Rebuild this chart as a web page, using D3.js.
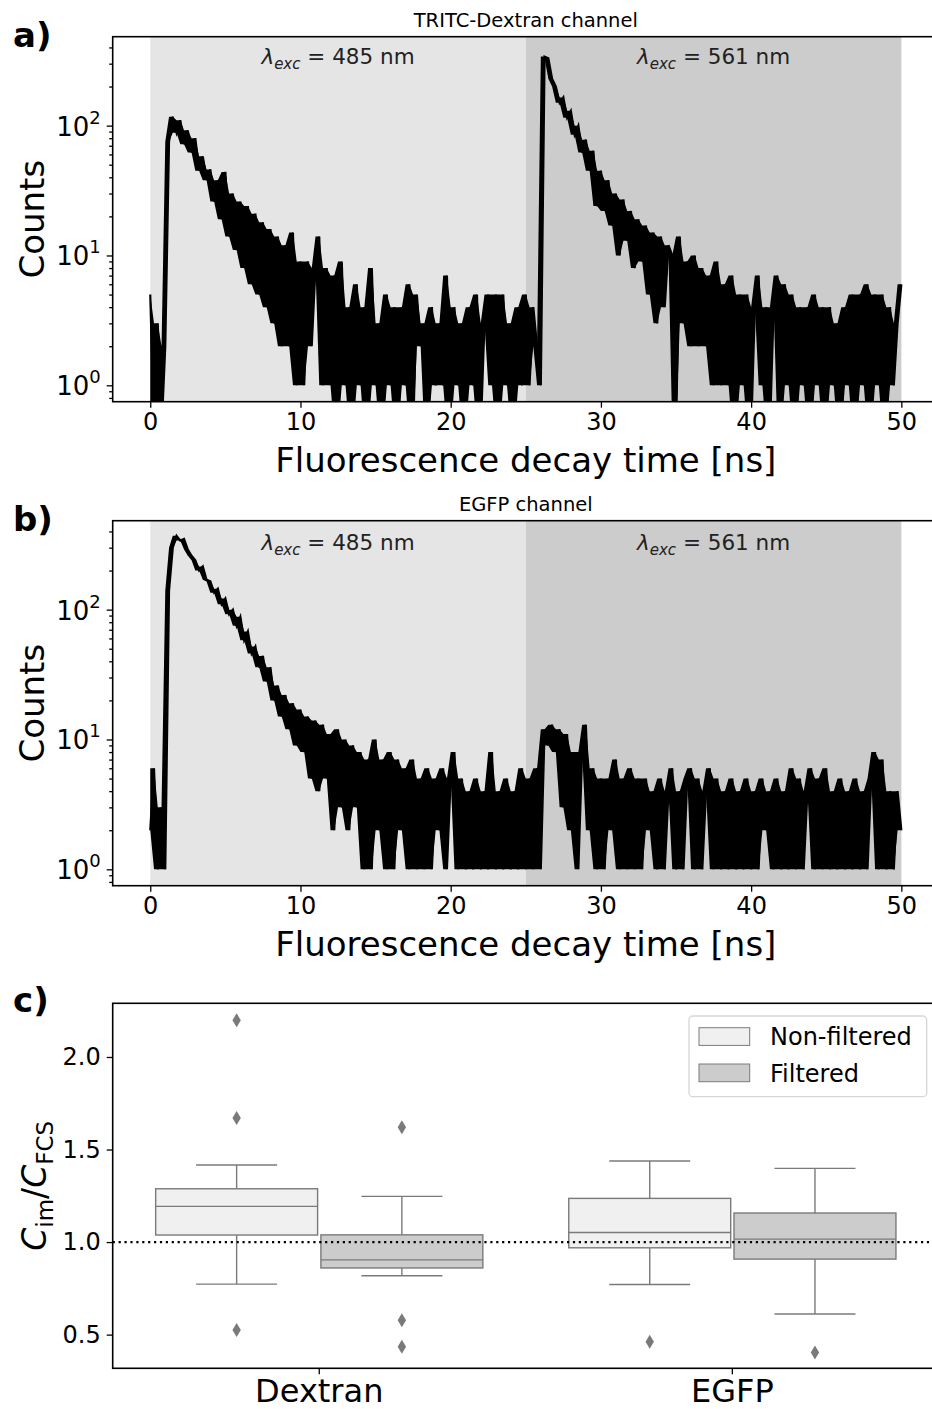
<!DOCTYPE html>
<html>
<head>
<meta charset="utf-8">
<script src="https://cdn.jsdelivr.net/npm/d3@7/dist/d3.min.js"></script>
<style>
  body { margin: 0; background: #fff; }
  svg { display: block; font-family: 'DejaVu Sans', sans-serif; }
</style>
</head>
<body>
<svg id="fig" width="932" height="1409"></svg>
<script>
// photon counts per 0.25 ns bin
var decay_bin_ns = 0.25;

var tritc_counts = [
  5, 0, 3, 0, 2, 75, 117, 88, 110, 72, 92, 62, 80, 45, 58, 38, 46, 26, 38, 19,
  44, 14, 30, 11, 26, 8, 24, 6, 21, 5, 18, 4, 16, 3, 14, 2, 12, 2, 15, 1,
  9, 1, 9, 2, 8, 14, 1, 8, 1, 7, 0, 9, 1, 4, 0, 6, 1, 4, 0, 8,
  1, 3, 0, 5, 1, 4, 0, 4, 1, 6, 0, 5, 2, 3, 0, 4, 1, 3, 1, 7,
  0, 4, 1, 3, 0, 4, 1, 5, 0, 3, 5, 1, 5, 0, 5, 1, 3, 0, 4, 1,
  5, 1, 4, 2, 1, 340, 330, 230, 200, 150, 165, 115, 130, 85, 100, 62, 78, 45, 64, 24,
  45, 22, 38, 17, 30, 10, 27, 13, 22, 8, 19, 9, 17, 5, 15, 3, 14, 4, 12, 10,
  0, 14, 3, 9, 2, 10, 2, 8, 2, 7, 1, 9, 1, 6, 1, 7, 0, 5, 1, 5,
  0, 4, 7, 1, 4, 0, 4, 7, 0, 6, 1, 5, 0, 4, 1, 4, 0, 5, 1, 4,
  0, 4, 1, 3, 0, 4, 1, 5, 0, 5, 1, 6, 0, 5, 1, 5, 0, 4, 1, 3, 6
];

var egfp_counts = [
  2, 6, 1, 3, 1, 140, 300, 370, 340, 350, 290, 260, 240, 200, 215, 170, 165, 135, 145, 110,
  122, 92, 100, 75, 88, 58, 68, 46, 52, 36, 44, 28, 36, 20, 26, 15, 22, 12, 19, 9,
  17, 8, 15, 5, 14, 4, 13, 5, 11, 2, 12, 3, 10, 2, 9, 3, 8, 1, 7, 1,
  10, 2, 7, 1, 8, 1, 7, 2, 6, 1, 7, 1, 5, 1, 6, 1, 5, 2, 6, 1,
  5, 8, 1, 5, 1, 4, 1, 5, 1, 4, 1, 8, 1, 4, 1, 5, 1, 4, 1, 6,
  1, 5, 1, 6, 1, 12, 9, 13, 8, 12, 3, 11, 2, 8, 1, 8, 13, 2, 6, 1,
  5, 1, 5, 2, 7, 1, 5, 1, 6, 1, 5, 1, 5, 2, 4, 1, 5, 1, 4, 6,
  1, 4, 1, 5, 6, 1, 5, 1, 4, 6, 1, 5, 1, 4, 1, 5, 1, 4, 1, 5,
  1, 4, 1, 5, 2, 4, 1, 5, 1, 4, 1, 6, 1, 5, 1, 4, 6, 1, 5, 1,
  6, 1, 4, 1, 5, 1, 4, 1, 5, 1, 4, 1, 5, 8, 1, 7, 1, 4, 1, 4, 2
];

var span_edges   = [0, 25, 50];
var laser_lines  = ['485', '561'];
var x_ticks      = [0, 10, 20, 30, 40, 50];
var log_ticks    = [1, 10, 100];
var log_exps     = ['0', '1', '2'];
var log_minor    = [0.8, 0.9, 2, 3, 4, 5, 6, 7, 8, 9, 20, 30, 40, 50, 60, 70, 80, 90, 200, 300, 400];

// box plot: [lower whisker, Q1, median, Q3, upper whisker]
var categories = ['Dextran', 'EGFP'];
var hues       = ['Non-filtered', 'Filtered'];
var dextran_nonfiltered        = [0.773, 1.038, 1.193, 1.288, 1.416];
var dextran_nonfiltered_fliers = [2.198, 1.670, 0.525];
var dextran_filtered           = [0.818, 0.860, 0.904, 1.039, 1.247];
var dextran_filtered_fliers    = [1.620, 0.577, 0.434];
var egfp_nonfiltered           = [0.771, 0.969, 1.052, 1.236, 1.438];
var egfp_nonfiltered_fliers    = [0.461];
var egfp_filtered              = [0.611, 0.908, 1.016, 1.157, 1.398];
var egfp_filtered_fliers       = [0.404];
var ratio_ticks = [0.5, 1.0, 1.5, 2.0];

var svg = d3.select('#fig');

var left   = 112.7;
var width  = 826.2;
var height = 365;
var span_fill = ['#e5e5e5', '#cccccc'];
var box_fill  = ['#f0f0f0', '#cccccc'];
var box_line  = '#7a7a7a';

var style_axis = (ax, fs) => {
  ax.select('.domain').remove();
  ax.selectAll('.tick line').attr('stroke', '#000').attr('stroke-width', 1.3);
  ax.selectAll('.tick text')
    .attr('fill', '#000')
    .attr('font-size', fs)
    .attr('font-family', 'DejaVu Sans');
};

var decay_draw = (o) => {
  var g = svg.append('g').attr('transform', `translate(${left},${o.top})`);

  var x = d3.scaleLinear().domain([-2.5, 52.5]).range([0, width]);
  var y = d3.scaleLog().domain([0.748, 484]).range([height, 0]);
  var y_pos = (v) => v > 0 ? y(v) : height + 30;

  g.selectAll('rect.span')
    .data(laser_lines)
    .enter()
    .append('rect')
    .attr('class', 'span')
    .attr('x', (d,i) => x(span_edges[i]))
    .attr('width', (d,i) => x(span_edges[i+1]) - x(span_edges[i]))
    .attr('y', 0)
    .attr('height', height)
    .attr('fill', (d,i) => span_fill[i]);

  var lbl = g.selectAll('text.laser')
    .data(laser_lines)
    .enter()
    .append('text')
    .attr('class', 'laser')
    .attr('x', (d,i) => x((span_edges[i] + span_edges[i+1]) / 2))
    .attr('y', o.label_dy)
    .attr('text-anchor', 'middle')
    .attr('font-size', '21.5px')
    .attr('fill', '#222');
  lbl.append('tspan').attr('font-style', 'italic').text('λ');
  lbl.append('tspan').attr('font-style', 'italic').attr('font-size', '15px').attr('dy', 5).text('exc');
  lbl.append('tspan').attr('dy', -5).text((d) => ` = ${d} nm`);

  g.append('clipPath')
    .attr('id', `clip-${o.id}`)
    .append('rect')
    .attr('width', width)
    .attr('height', height);

  var c = o.counts;
  var nxt = (i) => i + 1 < c.length ? c[i+1] : c[i];

  // the bins are far narrower than a pixel in the original, so the trace reads as a filled band
  var band = d3.area()
    .x((d,i) => x(i * decay_bin_ns))
    .y0((d,i) => y_pos(Math.min(d, nxt(i))))
    .y1((d,i) => y_pos(Math.max(d, nxt(i))));

  var line = d3.line()
    .x((d,i) => x(i * decay_bin_ns))
    .y((d) => y_pos(d));

  var tg = g.append('g').attr('clip-path', `url(#clip-${o.id})`);

  tg.append('path')
    .datum(c)
    .attr('d', band)
    .attr('fill', '#000');

  tg.append('path')
    .datum(c)
    .attr('d', line)
    .attr('fill', 'none')
    .attr('stroke', '#000')
    .attr('stroke-width', 2.2);

  var xa = g.append('g')
    .attr('transform', `translate(0,${height})`)
    .call(d3.axisBottom(x).tickValues(x_ticks).tickSize(6).tickPadding(5));
  style_axis(xa, '24px');

  var ya = g.append('g')
    .call(d3.axisLeft(y).tickValues(log_ticks).tickSize(6).tickPadding(6).tickFormat(''));
  style_axis(ya, '26px');
  ya.selectAll('.tick text').each(function(d,i) {
    var t = d3.select(this).attr('dy', '0.36em');
    t.append('tspan').text('10');
    t.append('tspan').attr('font-size', '18px').attr('dy', -12).text(log_exps[i]);
  });

  var ym = g.append('g')
    .call(d3.axisLeft(y).tickValues(log_minor).tickSize(3.5).tickFormat(''));
  style_axis(ym, '24px');

  g.append('rect')
    .attr('width', width)
    .attr('height', height)
    .attr('fill', 'none')
    .attr('stroke', '#000')
    .attr('stroke-width', 1.6);

  svg.append('text')
    .attr('x', left + width / 2)
    .attr('y', o.top - 9.7)
    .attr('text-anchor', 'middle')
    .attr('font-size', '19.5px')
    .text(o.title);

  svg.append('text')
    .attr('x', 13)
    .attr('y', o.top + 10.5)
    .attr('font-size', '34px')
    .attr('font-weight', 'bold')
    .text(o.tag);

  svg.append('text')
    .attr('x', left + width / 2)
    .attr('y', o.top + height + 70)
    .attr('text-anchor', 'middle')
    .attr('font-size', '34px')
    .text('Fluorescence decay time [ns]');

  svg.append('text')
    .attr('transform', `translate(44,${o.top + height / 2}) rotate(-90)`)
    .attr('text-anchor', 'middle')
    .attr('font-size', '34px')
    .text('Counts');
};

decay_draw({ id: 'a', top: 36.7, counts: tritc_counts, title: 'TRITC-Dextran channel', tag: 'a)', label_dy: 27.3 });
decay_draw({ id: 'b', top: 520.7, counts: egfp_counts, title: 'EGFP channel', tag: 'b)', label_dy: 29.3 });

// ---- panel c: box plots ----
var box_draw = (o) => {
  var g = svg.append('g').attr('transform', `translate(${left},${o.top})`);

  var x = d3.scaleBand().domain(categories).range([0, width]);
  var bw = x.bandwidth();
  var xh = d3.scaleBand().domain(hues).range([-0.4 * bw, 0.4 * bw]);
  var y = d3.scaleLinear().domain([0.318, 2.29]).range([height, 0]);

  var groups = [
    { cat: 'Dextran', hue: 'Non-filtered', s: dextran_nonfiltered, f: dextran_nonfiltered_fliers },
    { cat: 'Dextran', hue: 'Filtered',     s: dextran_filtered,    f: dextran_filtered_fliers },
    { cat: 'EGFP',    hue: 'Non-filtered', s: egfp_nonfiltered,    f: egfp_nonfiltered_fliers },
    { cat: 'EGFP',    hue: 'Filtered',     s: egfp_filtered,       f: egfp_filtered_fliers }
  ];

  var box_w = xh.bandwidth() * 0.98;

  groups.forEach((d) => {
    var cx = x(d.cat) + bw / 2 + xh(d.hue) + xh.bandwidth() / 2;
    var gb = g.append('g').attr('stroke', box_line).attr('stroke-width', 1.4);

    gb.append('line').attr('x1', cx).attr('x2', cx).attr('y1', y(d.s[0])).attr('y2', y(d.s[1]));
    gb.append('line').attr('x1', cx).attr('x2', cx).attr('y1', y(d.s[3])).attr('y2', y(d.s[4]));
    [d.s[0], d.s[4]].forEach((v) => {
      gb.append('line')
        .attr('x1', cx - box_w / 4).attr('x2', cx + box_w / 4)
        .attr('y1', y(v)).attr('y2', y(v));
    });
    gb.append('rect')
      .attr('x', cx - box_w / 2)
      .attr('width', box_w)
      .attr('y', y(d.s[3]))
      .attr('height', y(d.s[1]) - y(d.s[3]))
      .attr('fill', box_fill[hues.indexOf(d.hue)]);
    gb.append('line')
      .attr('x1', cx - box_w / 2).attr('x2', cx + box_w / 2)
      .attr('y1', y(d.s[2])).attr('y2', y(d.s[2]));

    g.selectAll(null)
      .data(d.f)
      .enter()
      .append('path')
      .attr('d', 'M0,-7L4.2,0L0,7L-4.2,0Z')
      .attr('transform', (v) => `translate(${cx},${y(v)})`)
      .attr('fill', box_line);
  });

  g.append('line')
    .attr('x1', 0).attr('x2', width)
    .attr('y1', y(1)).attr('y2', y(1))
    .attr('stroke', '#000')
    .attr('stroke-width', 2.2)
    .attr('stroke-dasharray', '2.2,3.7');

  var xa = g.append('g')
    .attr('transform', `translate(0,${height})`)
    .call(d3.axisBottom(x).tickSize(6).tickPadding(5));
  style_axis(xa, '32px');
  xa.selectAll('.tick text').attr('dy', '0.71em');

  var ya = g.append('g')
    .call(d3.axisLeft(y).tickValues(ratio_ticks).tickSize(6).tickPadding(6).tickFormat(d3.format('.1f')));
  style_axis(ya, '24px');

  g.append('rect')
    .attr('width', width)
    .attr('height', height)
    .attr('fill', 'none')
    .attr('stroke', '#000')
    .attr('stroke-width', 1.6);

  // legend
  var lg = svg.append('g').attr('transform', 'translate(689,1016)');
  lg.append('rect')
    .attr('width', 237.7).attr('height', 80.7)
    .attr('rx', 4)
    .attr('fill', '#fff').attr('fill-opacity', 0.8)
    .attr('stroke', '#d6d6d6').attr('stroke-width', 1.3);
  var li = lg.selectAll('g.item')
    .data(hues)
    .enter()
    .append('g')
    .attr('class', 'item')
    .attr('transform', (d,i) => `translate(0,${11.7 + i * 36.3})`);
  li.append('rect')
    .attr('x', 10).attr('width', 50.7).attr('height', 17.7)
    .attr('fill', (d,i) => box_fill[i])
    .attr('stroke', box_line).attr('stroke-width', 1);
  li.append('text')
    .attr('x', 81).attr('y', 17.5)
    .attr('font-size', '24px')
    .text((d) => d);

  var yl = svg.append('text')
    .attr('transform', `translate(46,${o.top + height / 2}) rotate(-90)`)
    .attr('text-anchor', 'middle')
    .attr('font-size', '33px');
  yl.append('tspan').attr('font-style', 'italic').text('C');
  yl.append('tspan').attr('font-size', '23px').attr('dy', 7).text('im');
  yl.append('tspan').attr('dy', -7).text('/');
  yl.append('tspan').attr('font-style', 'italic').text('C');
  yl.append('tspan').attr('font-size', '23px').attr('dy', 7).text('FCS');

  svg.append('text')
    .attr('x', 13)
    .attr('y', o.top + 8.7)
    .attr('font-size', '34px')
    .attr('font-weight', 'bold')
    .text('c)');
};

box_draw({ top: 1003.3 });
</script>
</body>
</html>
